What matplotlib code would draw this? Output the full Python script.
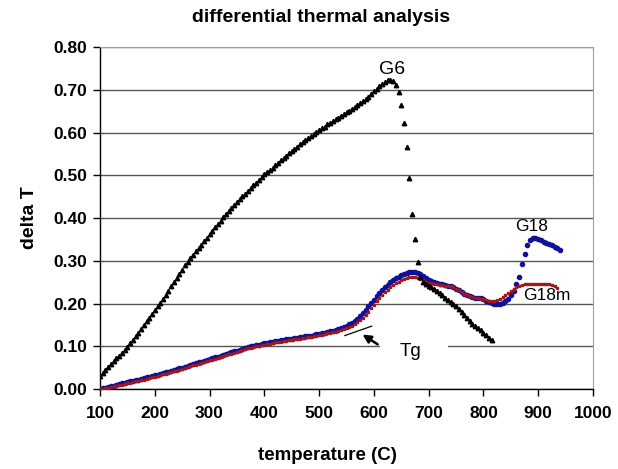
import matplotlib
matplotlib.use("Agg")
import matplotlib.pyplot as plt
from matplotlib.patches import Rectangle

plt.rcParams["font.family"] = ["Liberation Sans", "DejaVu Sans"]

# G6 (black triangles), 5 C steps from 100 to 815
g6_temp = list(range(100, 816, 5))
g6_dt = [
    0.030, 0.037, 0.044, 0.051, 0.058, 0.065, 0.072, 0.078, 0.085, 0.092,
    0.099, 0.107, 0.115, 0.124, 0.132, 0.141, 0.149, 0.158, 0.167, 0.176,
    0.184, 0.193, 0.202, 0.211, 0.220, 0.230, 0.240, 0.250, 0.260, 0.270,
    0.279, 0.289, 0.298, 0.306, 0.314, 0.322, 0.330, 0.338, 0.346, 0.354,
    0.362, 0.370, 0.378, 0.386, 0.394, 0.402, 0.409, 0.416, 0.423, 0.430,
    0.437, 0.444, 0.451, 0.457, 0.464, 0.470, 0.477, 0.483, 0.490, 0.496,
    0.502, 0.507, 0.513, 0.518, 0.524, 0.529, 0.535, 0.540, 0.545, 0.551,
    0.556, 0.561, 0.566, 0.572, 0.577, 0.582, 0.587, 0.592, 0.597, 0.601,
    0.606, 0.610, 0.614, 0.619, 0.623, 0.627, 0.631, 0.635, 0.639, 0.643,
    0.647, 0.651, 0.655, 0.659, 0.664, 0.668, 0.673, 0.678, 0.684, 0.690,
    0.696, 0.702, 0.708, 0.714, 0.719, 0.722, 0.723, 0.720, 0.712, 0.695,
    0.664, 0.623, 0.565, 0.493, 0.410, 0.350, 0.297, 0.262, 0.250, 0.246,
    0.242, 0.238, 0.234, 0.229, 0.224, 0.219, 0.214, 0.208, 0.203, 0.198,
    0.193, 0.187, 0.180, 0.174, 0.167, 0.160, 0.153, 0.148, 0.142, 0.137,
    0.131, 0.126, 0.120, 0.115,
]

# G18 (blue), 5 C steps from 100 to 940
g18_temp = list(range(100, 941, 5))
g18_dt = [
    0.000, 0.002, 0.003, 0.005, 0.006, 0.008, 0.010, 0.011, 0.013, 0.015,
    0.016, 0.018, 0.019, 0.021, 0.022, 0.024, 0.025, 0.027, 0.028, 0.030,
    0.032, 0.033, 0.035, 0.037, 0.039, 0.040, 0.042, 0.044, 0.046, 0.048,
    0.050, 0.052, 0.054, 0.056, 0.058, 0.060, 0.062, 0.064, 0.066, 0.068,
    0.070, 0.072, 0.074, 0.076, 0.078, 0.080, 0.082, 0.084, 0.086, 0.088,
    0.090, 0.092, 0.094, 0.096, 0.098, 0.100, 0.101, 0.103, 0.104, 0.105,
    0.107, 0.108, 0.109, 0.110, 0.112, 0.113, 0.114, 0.115, 0.116, 0.117,
    0.118, 0.119, 0.120, 0.121, 0.122, 0.123, 0.124, 0.125, 0.127, 0.128,
    0.129, 0.130, 0.132, 0.133, 0.135, 0.136, 0.138, 0.140, 0.142, 0.145,
    0.148, 0.151, 0.155, 0.159, 0.164, 0.170, 0.177, 0.185, 0.193, 0.201,
    0.209, 0.217, 0.224, 0.231, 0.238, 0.244, 0.250, 0.255, 0.259, 0.263,
    0.266, 0.269, 0.271, 0.273, 0.274, 0.274, 0.272, 0.269, 0.264, 0.259,
    0.256, 0.253, 0.250, 0.248, 0.246, 0.245, 0.243, 0.241, 0.240, 0.238,
    0.235, 0.231, 0.227, 0.223, 0.220, 0.217, 0.215, 0.214, 0.213, 0.212,
    0.210, 0.207, 0.204, 0.202, 0.200, 0.199, 0.199, 0.201, 0.205, 0.211,
    0.219, 0.229, 0.245, 0.263, 0.292, 0.316, 0.338, 0.348, 0.354, 0.353,
    0.351, 0.348, 0.345, 0.342, 0.339, 0.336, 0.333, 0.330, 0.326,
]

# G18m (dark red), 5 C steps from 100 to 935
g18m_temp = list(range(100, 936, 5))
g18m_dt = [
    0.000, 0.001, 0.002, 0.003, 0.004, 0.006, 0.007, 0.009, 0.010, 0.012,
    0.013, 0.015, 0.016, 0.018, 0.019, 0.021, 0.022, 0.024, 0.025, 0.027,
    0.029, 0.030, 0.032, 0.034, 0.036, 0.037, 0.039, 0.041, 0.043, 0.045,
    0.047, 0.049, 0.051, 0.053, 0.055, 0.057, 0.059, 0.061, 0.063, 0.065,
    0.067, 0.069, 0.071, 0.073, 0.075, 0.077, 0.079, 0.081, 0.083, 0.085,
    0.087, 0.089, 0.091, 0.093, 0.095, 0.097, 0.098, 0.100, 0.101, 0.102,
    0.104, 0.105, 0.106, 0.107, 0.109, 0.110, 0.111, 0.112, 0.113, 0.114,
    0.115, 0.116, 0.117, 0.118, 0.119, 0.120, 0.121, 0.122, 0.124, 0.125,
    0.126, 0.127, 0.129, 0.130, 0.131, 0.133, 0.134, 0.136, 0.138, 0.140,
    0.142, 0.145, 0.148, 0.152, 0.156, 0.161, 0.167, 0.174, 0.181, 0.189,
    0.197, 0.205, 0.212, 0.219, 0.226, 0.232, 0.238, 0.243, 0.247, 0.251,
    0.254, 0.257, 0.259, 0.261, 0.262, 0.261, 0.259, 0.257, 0.254, 0.251,
    0.249, 0.247, 0.246, 0.245, 0.244, 0.243, 0.242, 0.241, 0.240, 0.238,
    0.235, 0.231, 0.227, 0.223, 0.220, 0.217, 0.215, 0.213, 0.212, 0.211,
    0.210, 0.208, 0.207, 0.207, 0.207, 0.208, 0.211, 0.215, 0.220, 0.225,
    0.230, 0.235, 0.239, 0.242, 0.244, 0.245, 0.245, 0.245, 0.245, 0.245,
    0.245, 0.245, 0.245, 0.245, 0.245, 0.244, 0.240, 0.236,
]

x_ticks = list(range(100, 1001, 100))
y_ticks = [0.0, 0.1, 0.2, 0.3, 0.4, 0.5, 0.6, 0.7, 0.8]

fig = plt.figure(figsize=(6.18, 4.69), dpi=100)
ax = fig.add_axes([100 / 618, 1 - 389 / 469, 493 / 618, 342 / 469])

ax.plot(g18_temp, g18_dt, linestyle="none", marker="o", markersize=3.0,
        color="#10109a", zorder=3)
ax.plot(g18m_temp, g18m_dt, linestyle="none", marker="s", markersize=2.1,
        color="#a01818", zorder=4)
ax.plot(g6_temp, g6_dt, linestyle="none", marker="^", markersize=3.2,
        color="black", zorder=5)

ax.set_xlim(100, 1000)
ax.set_ylim(0, 0.8)
ax.set_xticks(x_ticks)
ax.set_yticks(y_ticks)
ax.set_yticklabels([f"{v:.2f}" for v in y_ticks])

ax.set_axisbelow(True)
ax.yaxis.grid(True, color="#555555", linewidth=1.0)
for side in ["top", "right"]:
    ax.spines[side].set_color("#a0a0a0")
for side in ["left", "bottom"]:
    ax.spines[side].set_color("black")
    ax.spines[side].set_linewidth(1.0)
ax.tick_params(direction="out", length=5, width=1, labelsize=12.5)
ax.tick_params(axis="x", pad=7)
ax.tick_params(axis="y", pad=4)
for lbl in ax.get_xticklabels() + ax.get_yticklabels():
    lbl.set_fontweight("bold")

# white box hiding the 0.10 grid line behind "Tg"
ax.add_patch(Rectangle((612, 0.09), 123, 0.02, facecolor="white",
                       edgecolor="none", zorder=1))

ax.plot([547, 596], [0.125, 0.147], color="black", linewidth=0.9, zorder=6)
ax.annotate("", xy=(575, 0.131), xytext=(611, 0.101),
            arrowprops=dict(arrowstyle="-|>", color="black", lw=1.8,
                            mutation_scale=12), zorder=7)

ax.text(633, 0.748, "G6", fontsize=14, ha="center", va="center")
ax.text(887, 0.381, "G18", fontsize=12.5, ha="center", va="center")
ax.text(916, 0.219, "G18m", fontsize=12.5, ha="center", va="center")
ax.text(666, 0.088, "Tg", fontsize=13.5, ha="center", va="center", zorder=8)

fig.text(0.52, 1 - 17 / 469, "differential thermal analysis", fontsize=14,
         fontweight="bold", ha="center", va="center")
fig.text(0.53, 1 - 455 / 469, "temperature (C)", fontsize=13.5,
         fontweight="bold", ha="center", va="center")
ax.set_ylabel("delta T", fontsize=14, fontweight="bold", labelpad=11)

fig.savefig("out.png", dpi=100)
